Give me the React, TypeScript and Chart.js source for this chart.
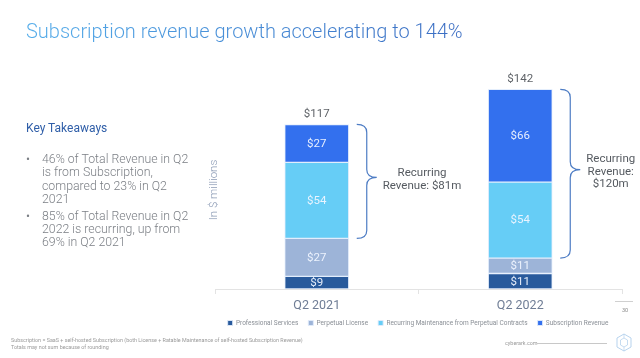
import React, { useEffect, useRef } from "react";
import { Chart, registerables } from "chart.js";

Chart.register(...registerables);

const categories = ["Q2 2021", "Q2 2022"];
const professionalServices = [9, 11];
const perpetualLicense = [27, 11];
const recurringMaintenance = [54, 54];
const subscriptionRevenue = [27, 66];
const totals = [117, 142];
const recurringTotals = [81, 120];
const recurringLabels = [["Recurring", "Revenue: $81m"], ["Recurring", "Revenue:", "$120m"]];
const seriesNames = [
  "Professional Services",
  "Perpetual License",
  "Recurring Maintenance from Perpetual Contracts",
  "Subscription Revenue",
];
const seriesColors = ["#285a9c", "#9db4d8", "#66cdf6", "#3370ee"];

const FONT = "Roboto, 'Noto Sans', sans-serif";

const labelsPlugin = {
  id: "slideLabels",
  afterDatasetsDraw(chart: any) {
    const ctx = chart.ctx;
    const y = chart.scales.y;
    ctx.save();
    chart.data.datasets.forEach((ds: any, di: number) => {
      const meta = chart.getDatasetMeta(di);
      meta.data.forEach((bar: any, i: number) => {
        const cy = (bar.y + bar.base) / 2;
        ctx.fillStyle = "rgba(240,246,255,0.95)";
        ctx.font = `400 11.5px ${FONT}`;
        ctx.textAlign = "center";
        ctx.textBaseline = "middle";
        ctx.fillText("$" + ds.data[i], bar.x, cy + 0.5);
      });
    });
    const lastMeta = chart.getDatasetMeta(chart.data.datasets.length - 1);
    lastMeta.data.forEach((bar: any, i: number) => {
      ctx.fillStyle = "#5f6368";
      ctx.font = `400 11.5px ${FONT}`;
      ctx.textAlign = "center";
      ctx.textBaseline = "middle";
      ctx.fillText("$" + totals[i], bar.x, y.getPixelForValue(totals[i]) - 10);
    });
    lastMeta.data.forEach((bar: any, i: number) => {
      const base = professionalServices[i] + perpetualLicense[i];
      const top = y.getPixelForValue(base + recurringTotals[i]);
      const bot = y.getPixelForValue(base);
      const x0 = bar.x + bar.width / 2 + 8;
      const w = 20;
      const xm = x0 + w / 2;
      const x1 = x0 + w;
      const mid = (top + bot) / 2 - 4;
      const r = 8;
      ctx.strokeStyle = "#4d7cc4";
      ctx.lineWidth = 1.2;
      ctx.beginPath();
      ctx.moveTo(x0, top);
      ctx.quadraticCurveTo(xm, top, xm, top + r);
      ctx.lineTo(xm, mid - r);
      ctx.quadraticCurveTo(xm, mid, x1, mid);
      ctx.quadraticCurveTo(xm, mid, xm, mid + r);
      ctx.lineTo(xm, bot - r);
      ctx.quadraticCurveTo(xm, bot, x0, bot);
      ctx.stroke();
      const lines = recurringLabels[i];
      ctx.font = `400 11.5px ${FONT}`;
      ctx.fillStyle = "#555a60";
      ctx.textAlign = "center";
      ctx.textBaseline = "middle";
      const maxW = Math.max(...lines.map((l) => ctx.measureText(l).width));
      const cx = x1 + 6 + maxW / 2;
      const lh = 12.5;
      const startY = mid + 2 - ((lines.length - 1) * lh) / 2;
      lines.forEach((l, k) => ctx.fillText(l, cx, startY + k * lh));
    });
    ctx.restore();
  },
};

const blankAxis = (position: string, width: number) => ({
  position,
  display: true,
  ticks: { display: false },
  grid: { display: false },
  border: { display: false },
  afterFit: (s: any) => {
    s.width = width;
  },
});

function ChartCanvas() {
  const ref = useRef<HTMLCanvasElement>(null);
  useEffect(() => {
    if (!ref.current) return;
    const datasets = [professionalServices, perpetualLicense, recurringMaintenance, subscriptionRevenue].map(
      (d, k) => ({
        label: seriesNames[k],
        data: d,
        backgroundColor: seriesColors[k],
        borderColor: "rgba(225,236,252,0.9)",
        borderWidth: 1,
        borderSkipped: false,
        barThickness: 64,
      })
    );
    const chart = new Chart(ref.current, {
      type: "bar",
      data: { labels: categories, datasets },
      plugins: [labelsPlugin],
      options: {
        animation: false,
        responsive: false,
        devicePixelRatio: 1,
        layout: { padding: { left: 200, right: 4, top: 64, bottom: 21.75 } },
        plugins: {
          legend: {
            position: "bottom",
            labels: {
              boxWidth: 5,
              boxHeight: 5,
              padding: 10,
              color: "#8a8f96",
              font: { family: FONT, size: 6.5 },
            },
          },
          tooltip: { enabled: false },
        },
        scales: {
          x: {
            stacked: true,
            offset: true,
            border: { display: true, color: "#e3e3e3" },
            grid: { display: true, offset: true, drawOnChartArea: false, drawTicks: true, tickLength: 5, color: "#e3e3e3" },
            ticks: { color: "#6f7d95", font: { family: FONT, size: 12.5 }, padding: 4 },
            afterFit: (s: any) => {
              s.height = 20.75;
            },
          },
          y: {
            stacked: true,
            min: 0,
            max: 160,
            ...blankAxis("left", 15),
          },
          yRight: {
            min: 0,
            max: 160,
            ...blankAxis("right", 14),
          },
        },
      } as any,
    });
    return () => chart.destroy();
  }, []);
  return <canvas ref={ref} width={640} height={358} style={{ position: "absolute", left: 0, top: 0, width: 640, height: 358 }} />;
}

export default function App() {
  return (
    <div style={{ position: "fixed", left: 0, top: 0, width: 640, height: 358, background: "#fff", overflow: "hidden", fontFamily: FONT }}>
      <ChartCanvas />
      <div
        style={{
          position: "absolute",
          left: 26,
          top: 19,
          fontSize: 20,
          fontWeight: 300,
          whiteSpace: "nowrap",
          background: "linear-gradient(90deg, #55adea 0%, #3a6cc2 100%)",
          WebkitBackgroundClip: "text",
          backgroundClip: "text",
          color: "transparent",
        }}
      >
        Subscription revenue growth accelerating to 144%
      </div>
      <div style={{ position: "absolute", left: 26, top: 121, fontSize: 12, color: "#2f5ea8" }}>Key Takeaways</div>
      <ul
        style={{
          position: "absolute",
          left: 26,
          top: 153,
          width: 170,
          margin: 0,
          padding: 0,
          listStyle: "none",
          fontSize: 12.3,
          lineHeight: "13.4px",
          color: "#7b7f85",
          fontWeight: 300,
        }}
      >
        {[
          "46% of Total Revenue in Q2 is from Subscription, compared to 23% in Q2 2021",
          "85% of Total Revenue in Q2 2022 is recurring, up from 69% in Q2 2021",
        ].map((t, i) => (
          <li key={i} style={{ position: "relative", paddingLeft: 16, marginBottom: 3 }}>
            <span style={{ position: "absolute", left: 0, top: 0 }}>•</span>
            {t}
          </li>
        ))}
      </ul>
      <div
        style={{
          position: "absolute",
          left: 213,
          top: 190,
          transform: "translate(-50%, -50%) rotate(-90deg)",
          fontSize: 11.5,
          color: "#8d9cb6",
          whiteSpace: "nowrap",
          fontWeight: 300,
        }}
      >
        In $ millions
      </div>
      <div style={{ position: "absolute", left: 615, top: 301, width: 18, height: 1, background: "#d0d0d0" }} />
      <div style={{ position: "absolute", left: 622, top: 307, fontSize: 5.5, color: "#8a8a8a" }}>30</div>
      <div style={{ position: "absolute", left: 11, top: 337, fontSize: 5.4, lineHeight: "7px", color: "#9a9a9a", whiteSpace: "nowrap" }}>
        Subscription = SaaS + self-hosted Subscription (both License + Ratable Maintenance of self-hosted Subscription Revenue)
        <br />
        Totals may not sum because of rounding
      </div>
      <div style={{ position: "absolute", left: 505, top: 340, fontSize: 5.4, color: "#9a9a9a" }}>cyberark.com</div>
      <div style={{ position: "absolute", left: 537, top: 343, width: 70, height: 1, background: "#c8c8c8" }} />
      <svg style={{ position: "absolute", left: 616, top: 333 }} width={16} height={19} viewBox="0 0 16 19">
        <polygon points="8,1 15,5 15,14 8,18 1,14 1,5" fill="none" stroke="#b7d3ee" strokeWidth={1} />
        <polygon points="8,5 11.5,7 11.5,12 8,14 4.5,12 4.5,7" fill="none" stroke="#b7d3ee" strokeWidth={0.8} />
        <line x1="8" y1="1" x2="8" y2="5" stroke="#b7d3ee" strokeWidth={0.7} />
        <line x1="8" y1="14" x2="8" y2="18" stroke="#b7d3ee" strokeWidth={0.7} />
      </svg>
    </div>
  );
}
